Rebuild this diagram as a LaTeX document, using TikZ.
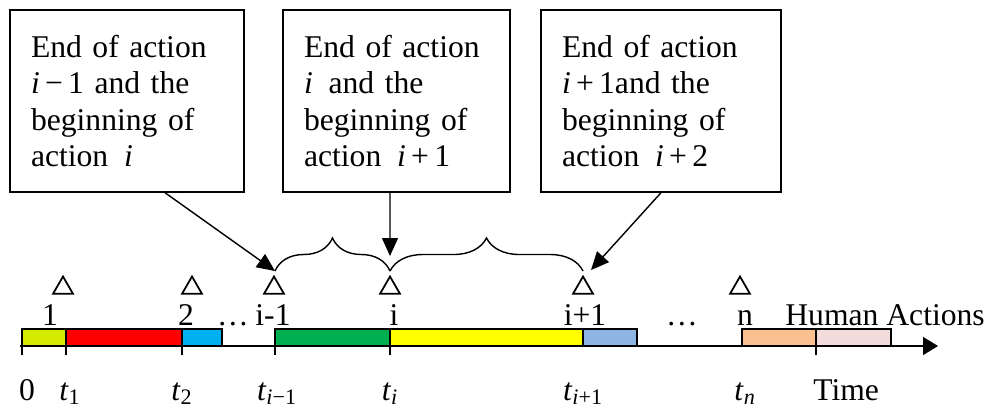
\documentclass[tikz,border=0pt]{standalone}
\usepackage{fontspec}
\setmainfont{Liberation Serif}
\usepackage{tikz}
\usetikzlibrary{shapes.geometric,arrows.meta,decorations.pathreplacing}
\usepackage{xcolor}
\definecolor{SegLime}{RGB}{212,234,0}
\definecolor{SegRed}{RGB}{255,0,0}
\definecolor{SegCyan}{RGB}{0,176,240}
\definecolor{SegGreen}{RGB}{0,176,80}
\definecolor{SegYellow}{RGB}{255,255,0}
\definecolor{SegSky}{RGB}{141,180,226}
\definecolor{SegPeach}{RGB}{250,192,144}
\definecolor{SegRose}{RGB}{242,220,219}
\newcommand{\vi}{\textit{i}}
\newcommand{\tlab}[1]{\textit{t}\textsubscript{#1}}
\tikzset{
  notebox/.style={draw,line width=0.8pt,minimum height=3.64cm,inner xsep=0.42cm,
        align=left,text width=#1,font=\fontsize{18}{20.6}\selectfont},
  pointer/.style={line width=0.8pt,-{Triangle[length=0.36cm,width=0.32cm]}},
  seg/.style={draw,line width=0.8pt,fill=#1},
  marker/.style={draw,line width=1pt,regular polygon,regular polygon sides=3,
        minimum size=0.46cm,inner sep=0pt},
  lab/.style={font=\fontsize{18}{20.6}\selectfont,anchor=base,inner sep=0pt},
  brc/.style={decorate,decoration={brace,amplitude=0.66cm},line width=0.8pt}
}
\begin{document}
\begin{tikzpicture}[x=0.02cm,y=-0.02cm]
  \useasboundingbox (0,0) rectangle (989,410);
  % note boxes
  \node[notebox=3.84cm] (box1) at (127,101) {
    End of action\\
    \vi\,−\,1 and the\\
    beginning of\\
    action \,\vi
  };
  \node[notebox=3.70cm] (box2) at (396.5,101) {
    End of action\\
    \vi\, and the\\
    beginning of\\
    action \,\vi\,+\,1
  };
  \node[notebox=3.96cm] (box3) at (661,101) {
    End of action\\
    \vi\,+\,1and the\\
    beginning of\\
    action \,\vi\,+\,2
  };
  % brace ends and arrow tips
  \coordinate (bA) at (275,271);
  \coordinate (bB) at (390,271);
  \coordinate (bC) at (583,271);
  \coordinate (tB) at (390,256);
  \coordinate (tC) at (591,270);
  \draw[brc] (bA) -- (bB);
  \draw[brc] (bB) -- (bC);
  \draw[pointer] ([xshift=0.76cm]box1.south) -- (bA);
  \draw[pointer] ([xshift=-0.13cm]box2.south) -- (tB);
  \draw[pointer] (box3.south) -- (tC);
  % markers
  \foreach \x/\nm in {63/m1,192/m2,274/mA,390/mB,583/mC,740/mn}
    \node[marker] (\nm) at (\x,288) {};
  % action labels
  \foreach \x/\t [count=\k] in {50/1,186/2,233/\dots,273/i-1,394/i,585/i+1,682/\dots,745/n}
    \node[lab] (act\k) at (\x,325) {\t};
  \node[lab,anchor=base west] (hum) at (785,325) {Human Actions};
  % action bars
  \foreach \a/\b/\c in {22/66/SegLime,66/182/SegRed,182/222/SegCyan,275/390/SegGreen,
      390/583/SegYellow,583/637/SegSky,742/816/SegPeach,816/891/SegRose}
    \draw[seg=\c] (\a,329) rectangle (\b,346);
  % time axis
  \coordinate (ax0) at (20,346);
  \coordinate (ax1) at (938,346);
  \draw[line width=0.8pt,-{Triangle[length=0.3cm,width=0.36cm]}] (ax0) -- (ax1);
  \foreach \x in {22,66,182,275,390,816}
    \draw[line width=0.8pt] (\x,346) -- (\x,355);
  % time labels
  \foreach \x/\t [count=\k] in {27/0,70/\tlab{1},182/\tlab{2},277/\tlab{\vi−1},
      390/\tlab{\vi},583/\tlab{\vi+1},745/\tlab{\textit{n}}}
    \node[lab] (tm\k) at (\x,400) {\t};
  \node[lab,anchor=base west] (time) at (813,400) {Time};
\end{tikzpicture}
\end{document}
